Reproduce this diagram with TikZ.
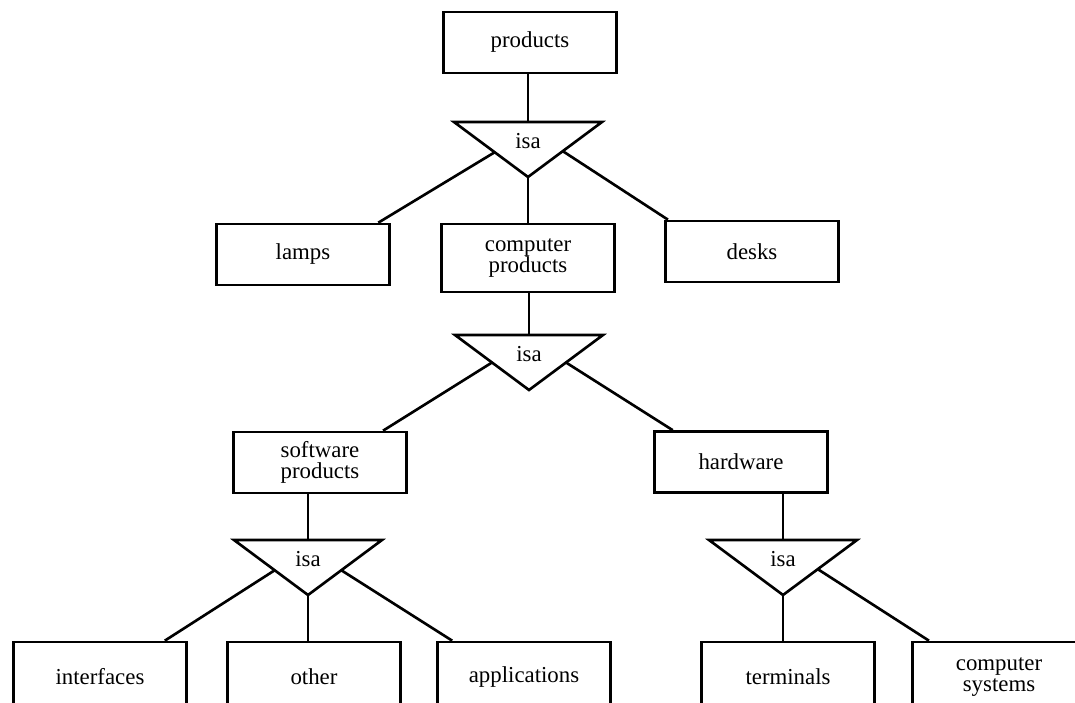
\documentclass[tikz,border=0pt]{standalone}
\usepackage{fontspec}
\setmainfont{Liberation Serif}
\usetikzlibrary{calc}
\tikzset{
	box/.style={draw,rectangle,minimum width=3.45cm,minimum height=1.22cm,inner sep=2pt,align=center,font=\fontsize{13}{12}\selectfont},
	tall/.style={minimum height=1.36cm},
	cut/.style={minimum height=1.4cm},
	isatext/.style={font=\fontsize{13}{12}\selectfont,inner sep=0pt}
}
\newcommand{\isatri}[3]{%
	\coordinate (#1-t) at (#2,#3);
	\coordinate (#1-l) at (#2-74,#3);
	\coordinate (#1-r) at (#2+74,#3);
	\coordinate (#1-a) at (#2,#3+55);
	\draw (#1-l)--(#1-r)--(#1-a)--cycle;
	\node[isatext] (#1) at (#2,#3+19) {isa};}
\begin{document}
\begin{tikzpicture}[x=0.02cm,y=-0.02cm,line width=1.5pt]
			\useasboundingbox (0,0) rectangle (1075,703);
			\clip (0,0) rectangle (1075,703);
			\node[box] (products) at (530,42.5) {products};
			\node[box] (lamps) at (303,254.5) {lamps};
			\node[box,tall] (cp) at (528,258) {computer\\products};
			\node[box] (desks) at (752,251.5) {desks};
			\node[box] (sw) at (320,462.5) {software\\products};
			\node[box] (hw) at (741,462) {hardware};
			\node[box,cut] (interfaces) at (100,677) {interfaces};
			\node[box,cut] (other) at (314,677) {other};
			\node[box,cut] (applications) at (524,677) {applications};
			\node[box,cut] (terminals) at (788,677) {terminals};
			\node[box,cut] (compsys) at (999,677) {computer\\systems};
			\isatri{t1}{528}{122}
			\isatri{t2}{529}{335}
			\isatri{t3}{308}{540}
			\isatri{t4}{783}{540}
			\draw (products.south -| t1-t)--(t1-t);
			\draw (t1-a)--(t1-a |- cp.north);
			\draw ($(t1-l)!.55!(t1-a)$)--($(lamps.north west)!.93!(lamps.north east)$);
			\draw ($(t1-r)!.53!(t1-a)$)--($(desks.north west)!.02!(desks.north east)$);
			\draw (t2-t |- cp.south)--(t2-t);
			\draw ($(t2-l)!.5!(t2-a)$)--($(sw.north west)!.86!(sw.north east)$);
			\draw ($(t2-r)!.5!(t2-a)$)--($(hw.north west)!.11!(hw.north east)$);
			\draw (t3-t |- sw.south)--(t3-t);
			\draw ($(t3-l)!.55!(t3-a)$)--($(interfaces.north west)!.87!(interfaces.north east)$);
			\draw (t3-a)--(t3-a |- other.north);
			\draw ($(t3-r)!.55!(t3-a)$)--($(applications.north west)!.09!(applications.north east)$);
			\draw (t4-t |- hw.south)--(t4-t);
			\draw (t4-a)--(t4-a |- terminals.north);
			\draw ($(t4-r)!.53!(t4-a)$)--($(compsys.north west)!.1!(compsys.north east)$);
	\end{tikzpicture}
\end{document}
